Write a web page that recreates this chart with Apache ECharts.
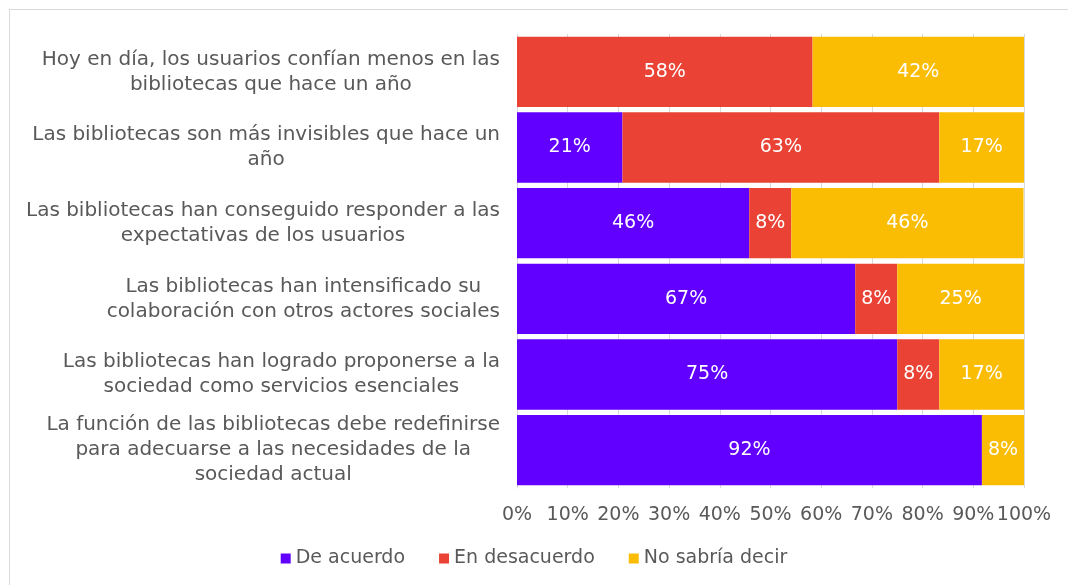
<!DOCTYPE html>
<html>
<head>
<meta charset="utf-8">
<script src="https://cdn.jsdelivr.net/npm/echarts@6/dist/echarts.min.js"></script>
<style>
  html, body { margin: 0; padding: 0; background: #fff; }
  #frame { position: absolute; left: 9px; top: 9px; width: 1200px; height: 700px; border: 1px solid #d9d9d9; }
  #chart { position: absolute; left: 0; top: 0; width: 1068px; height: 585px; }
</style>
</head>
<body>
<div id="frame"></div>
<div id="chart"></div>
<script>
// categories, top to bottom
const categories = [
  'Hoy en día, los usuarios confían menos en las\nbibliotecas que hace un año',
  'Las bibliotecas son más invisibles que hace un\naño',
  'Las bibliotecas han conseguido responder a las\nexpectativas de los usuarios',
  'Las bibliotecas han intensificado su\ncolaboración con otros actores sociales',
  'Las bibliotecas han logrado proponerse a la\nsociedad como servicios esenciales',
  'La función de las bibliotecas debe redefinirse\npara adecuarse a las necesidades de la\nsociedad actual'
]
const seriesNames = ['De acuerdo', 'En desacuerdo', 'No sabría decir']
const deAcuerdo = [0, 20.8, 45.8, 66.7, 75, 91.7]
const enDesacuerdo = [58.3, 62.5, 8.3, 8.3, 8.3, 0]
const noSabria = [41.7, 16.7, 45.8, 25, 16.7, 8.3]
const colors = ['#6200FF', '#EA4335', '#FBBC04']

const font = '"DejaVu Sans"'
const textColor = '#595959'

const chart = echarts.init(document.getElementById('chart'))

function makeSeries (name, data, color) {
  return {
    name: name,
    type: 'bar',
    stack: 'total',
    data: data,
    barCategoryGap: '7%',
    itemStyle: { color: color },
    label: {
      show: true,
      position: 'inside',
      color: '#fff',
      fontFamily: font,
      fontSize: 19,
      formatter: function (p) {
        return p.value > 0 ? Math.round(p.value) + '%' : ''
      }
    }
  }
}

const option = {
  animation: false,
  color: colors,
  grid: { left: 517, right: 44, top: 34, bottom: 97 },
  legend: {
    bottom: 12,
    left: 'center',
    itemWidth: 10,
    itemHeight: 10,
    itemGap: 34,
    icon: 'rect',
    textStyle: { color: textColor, fontFamily: font, fontSize: 19 },
    data: seriesNames
  },
  xAxis: {
    type: 'value',
    min: 0,
    max: 100,
    interval: 10,
    axisLine: { show: false },
    axisTick: { show: false },
    splitLine: { show: true, lineStyle: { color: '#d9d9d9' } },
    axisLabel: {
      color: textColor,
      fontFamily: font,
      fontSize: 19,
      margin: 18,
      formatter: '{value}%'
    }
  },
  yAxis: {
    type: 'category',
    inverse: true,
    data: categories,
    axisLine: { show: true, lineStyle: { color: '#d9d9d9' } },
    axisTick: { show: false },
    axisLabel: {
      margin: 17,
      align: 'right',
      color: textColor,
      fontFamily: font,
      fontSize: 20,
      lineHeight: 25,
      formatter: function (v) {
        return v.split('\n').map(function (l) { return '{c|' + l + '}' }).join('\n')
      },
      rich: {
        c: { align: 'center', color: textColor, fontFamily: font, fontSize: 20, lineHeight: 25 }
      }
    }
  },
  series: [
    makeSeries(seriesNames[0], deAcuerdo, colors[0]),
    makeSeries(seriesNames[1], enDesacuerdo, colors[1]),
    makeSeries(seriesNames[2], noSabria, colors[2])
  ]
}

chart.setOption(option)
</script>
</body>
</html>
